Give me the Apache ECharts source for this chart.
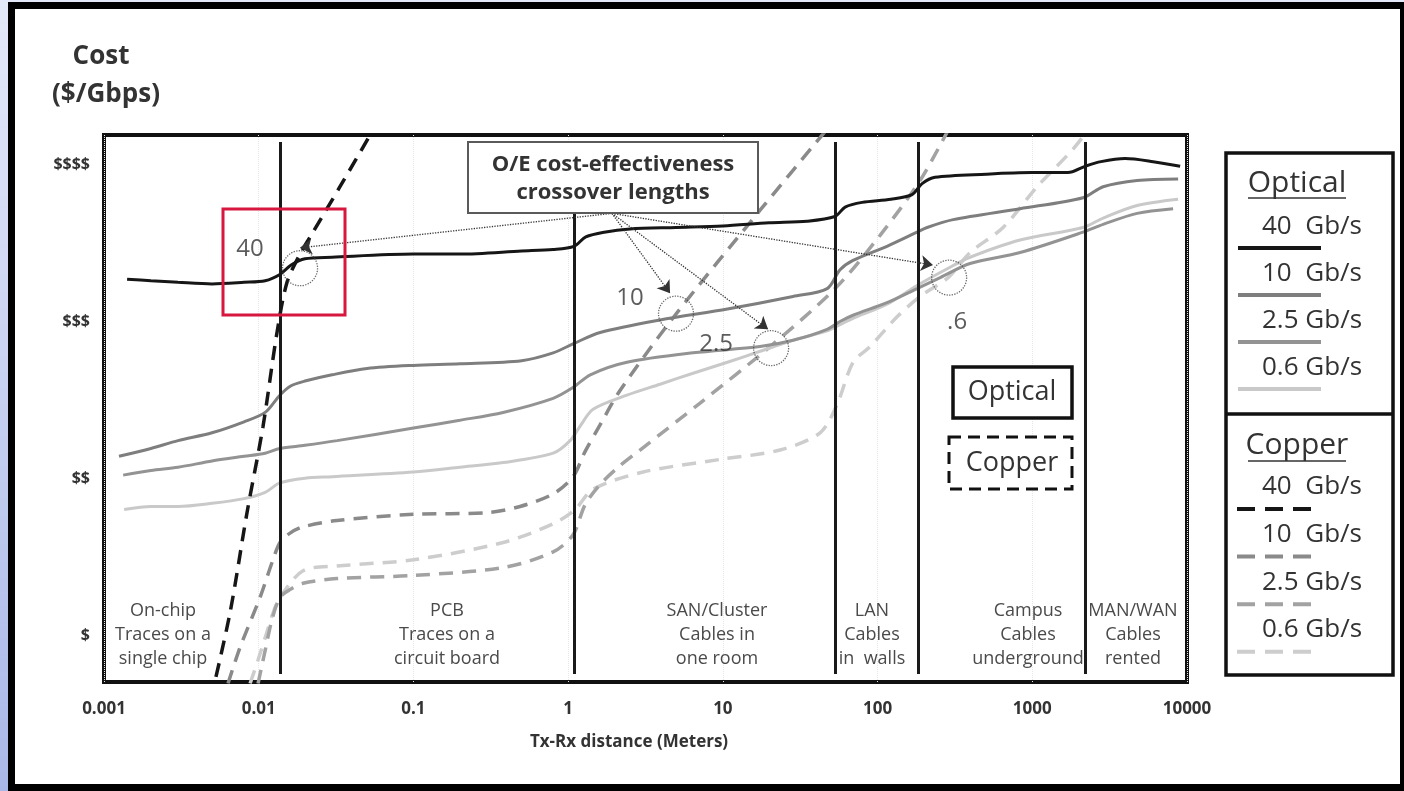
<!DOCTYPE html>
<html>
<head>
<meta charset="utf-8">
<script src="https://cdn.jsdelivr.net/npm/echarts@6/dist/echarts.min.js"></script>
<style>
html, body { margin: 0; padding: 0; width: 1404px; height: 791px; overflow: hidden;
  background: linear-gradient(to bottom, #e4e9f9, #a9b7e8); }
#frame { position: absolute; left: 8px; top: 2px; width: 1399px; height: 789px; box-sizing: border-box;
  border: 7px solid #000; background: #fff; }
#chart { position: absolute; left: 0; top: 0; width: 1404px; height: 791px; }
</style>
</head>
<body>
<div id="frame"></div>
<div id="chart"></div>
<script>
// Axis tick labels
const distanceTicks = ['0.001', '0.01', '0.1', '1', '10', '100', '1000', '10000'];
const costTicks = ['$', '$$', '$$$', '$$$$'];

// Cost curves: [distance in metres, relative cost level]
const optical40 = [[0.00141,3.27],[0.00201,3.26],[0.00301,3.25],[0.00499,3.24],[0.00804,3.25],[0.011,3.26],[0.0137,3.30],[0.0162,3.36],[0.0199,3.40],[0.0298,3.41],[0.1,3.43],[0.2,3.43],[0.5,3.45],[0.8,3.46],[1.09,3.48],[1.3,3.54],[1.71,3.57],[2.51,3.59],[4.98,3.60],[10,3.61],[19.9,3.63],[35,3.64],[53,3.67],[61.7,3.73],[79.4,3.76],[122,3.78],[167,3.81],[194,3.88],[235,3.92],[503,3.94],[997,3.95],[1700,3.95],[2190,3.99],[2780,4.02],[3980,4.04],[6040,4.02],[9030,3.99]];
const optical10 = [[0.00125,2.14],[0.00201,2.19],[0.00301,2.24],[0.00499,2.29],[0.00804,2.36],[0.011,2.42],[0.0137,2.53],[0.0162,2.59],[0.0199,2.62],[0.0298,2.66],[0.0501,2.70],[0.1,2.72],[0.2,2.73],[0.5,2.75],[0.8,2.80],[1.09,2.86],[1.61,2.93],[3.93,3.01],[10.7,3.08],[28.4,3.16],[47.2,3.21],[57.2,3.33],[69.4,3.39],[115,3.48],[180,3.57],[209,3.60],[308,3.65],[834,3.72],[2130,3.79],[2870,3.86],[4760,3.90],[8760,3.91]];
const optical2p5 = [[0.00133,2.02],[0.00201,2.05],[0.00301,2.07],[0.00499,2.11],[0.00804,2.14],[0.011,2.16],[0.0137,2.19],[0.0199,2.21],[0.0321,2.24],[0.1,2.32],[0.2,2.37],[0.38,2.42],[0.8,2.51],[1.08,2.58],[1.39,2.66],[2.4,2.74],[6.42,2.80],[17.4,2.84],[28.4,2.88],[47.2,2.95],[57.2,3.00],[69.4,3.04],[115,3.12],[180,3.21],[254,3.28],[396,3.37],[834,3.44],[2130,3.57],[2870,3.62],[4760,3.69],[8130,3.72]];
const optical0p6 = [[0.00135,1.80],[0.00201,1.82],[0.00301,1.82],[0.00499,1.84],[0.00804,1.87],[0.011,1.91],[0.0137,1.97],[0.0199,2.00],[0.0298,2.01],[0.1,2.04],[0.2,2.07],[0.38,2.10],[0.8,2.16],[1.03,2.24],[1.19,2.33],[1.45,2.44],[2.4,2.53],[3.93,2.60],[6.42,2.67],[10.7,2.74],[17.4,2.81],[28.4,2.88],[47.2,2.94],[57.2,2.98],[69.4,3.02],[115,3.11],[180,3.23],[286,3.34],[396,3.41],[834,3.52],[2130,3.60],[2870,3.66],[4760,3.74],[8760,3.78]];
const copper40 = [[0.0049,0.59],[0.00652,1.14],[0.0084,1.78],[0.01066,2.33],[0.01313,2.93],[0.01524,3.25],[0.0185,3.43],[0.02244,3.57],[0.0335,3.86],[0.0524,4.19],[0.0608,4.31]];
const copper10 = [[0.00633,0.69],[0.00757,0.92],[0.0102,1.24],[0.01237,1.48],[0.01373,1.59],[0.01594,1.65],[0.01934,1.69],[0.03207,1.73],[0.1,1.77],[0.299,1.78],[0.489,1.82],[0.8,1.90],[1.076,2.01],[1.286,2.17],[1.608,2.34],[2.165,2.56],[4.909,3.04],[17.4,3.71],[49.3,4.25]];
const copper2p5 = [[0.0099,0.69],[0.011,0.90],[0.0122,1.10],[0.01373,1.24],[0.01594,1.29],[0.01934,1.33],[0.03207,1.36],[0.1,1.38],[0.38,1.43],[0.8,1.53],[1.076,1.64],[1.286,1.83],[1.608,1.96],[2.165,2.08],[2.916,2.18],[7.124,2.48],[20.2,2.84],[53.1,3.21],[103.8,3.55],[188.2,3.90],[285.7,4.22]];
const copper0p6 = [[0.00879,0.69],[0.0099,0.84],[0.01115,1.00],[0.01237,1.14],[0.01373,1.24],[0.01934,1.41],[0.03207,1.44],[0.1,1.48],[0.38,1.59],[0.8,1.71],[1.108,1.80],[1.449,1.93],[3.05,2.04],[9.59,2.12],[23.4,2.18],[42.5,2.29],[54.7,2.47],[69.4,2.74],[89.4,2.84],[133.7,3.03],[188.2,3.16],[285.7,3.28],[396.2,3.44],[647.6,3.60],[1074,3.86],[1835,4.10],[2364,4.24]];

// Region boundaries (metres) and their names
const regionBounds = [0.0137, 1.1, 53, 183, 2200];
const regionNames = [
  ['On-chip', 'Traces on a', 'single chip'],
  ['PCB', 'Traces on a', 'circuit board'],
  ['SAN/Cluster', 'Cables in', 'one room'],
  ['LAN', 'Cables', 'in  walls'],
  ['Campus', 'Cables', 'underground'],
  ['MAN/WAN', 'Cables', 'rented']
];

// O/E crossover points, their rate labels and the callout arrows
const crossovers = [[0.0185,3.34],[4.98,3.05],[20.5,2.83],[290,3.28]];
const crossoverLabels = ['40', '10', '2.5', '.6'];
const calloutOrigin = [1.92, 3.69];
const arrowTips = [[0.0185,3.47],[4.56,3.18],[19.6,2.95],[228,3.36]];

const legendRates = ['40  Gb/s', '10  Gb/s', '2.5 Gb/s', '0.6 Gb/s'];

const FONT = "'Open Sans', 'Noto Sans', sans-serif";
const shades = ['#161616', '#7e7e7e', '#939393', '#c9c9c9'];
const copperShades = ['#161616', '#8a8a8a', '#a2a2a2', '#cdcdcd'];

const chart = echarts.init(document.getElementById('chart'), null, { renderer: 'canvas' });

function curve(name, data, color, dashed, width) {
  return {
    name, type: 'line', data, smooth: 0.3, symbol: 'none', clip: true,
    lineStyle: { color, width, type: dashed ? [14, 9] : 'solid', cap: 'butt' },
    z: dashed ? 3 : 4
  };
}

const labelOffsets = [[-50, -19], [-46, -16], [-55, -4], [8, 45]];

function text(t, x, y, font, extra) {
  return Object.assign({ type: 'text', z: 21, style: { text: t, x, y, font, fill: '#333', textAlign: 'center', textVerticalAlign: 'middle' } }, extra || {});
}

const graphics = [];
// Axis titles
graphics.push(text('Cost', 101, 57, 'bold 26px ' + FONT));
graphics.push(text('($/Gbps)', 106, 95, 'bold 26px ' + FONT));
graphics.push(text('Tx-Rx distance (Meters)', 629, 742, 'bold 17px ' + FONT));

// Region names along the bottom of the plot
const regionCenters = [163, 447, 717, 872, 1028, 1133];
regionNames.forEach((lines, i) => {
  lines.forEach((t, j) => {
    const el = text(t, regionCenters[i], 611 + j * 24, '18px ' + FONT);
    el.z = 10; el.style.fill = '#4a4a4a';
    graphics.push(el);
  });
});

// Callout box
graphics.push({ type: 'rect', z: 20, shape: { x: 468, y: 142, width: 290, height: 71 }, style: { fill: '#fff', stroke: '#5a5a5a', lineWidth: 2 } });
graphics.push(text('O/E cost-effectiveness', 613, 165, 'bold 22px ' + FONT));
graphics.push(text('crossover lengths', 613, 193, 'bold 22px ' + FONT));

// Highlight frame around the 40 Gb/s crossover
graphics.push({ type: 'rect', z: 20, shape: { x: 223, y: 209, width: 122, height: 106 }, style: { fill: 'none', stroke: '#d8173f', lineWidth: 3 } });

// Line-style key inside the plot
graphics.push({ type: 'rect', z: 20, shape: { x: 953, y: 367, width: 119, height: 51 }, style: { fill: '#fff', stroke: '#111', lineWidth: 3.5 } });
graphics.push(text('Optical', 1012, 392, '27px ' + FONT));
graphics.push({ type: 'rect', z: 20, shape: { x: 949, y: 437, width: 123, height: 52 }, style: { fill: '#fff', stroke: '#111', lineWidth: 3, lineDash: [12, 7] } });
graphics.push(text('Copper', 1012, 463, '27px ' + FONT));

// Legend panel
graphics.push({ type: 'rect', z: 20, shape: { x: 1226, y: 153, width: 167, height: 522 }, style: { fill: '#fff', stroke: '#111', lineWidth: 3.5 } });
graphics.push({ type: 'line', z: 21, shape: { x1: 1226, y1: 414, x2: 1393, y2: 414 }, style: { stroke: '#111', lineWidth: 3.5 } });
[['Optical', 183, 198], ['Copper', 445, 461]].forEach(([t, y, uy]) => {
  graphics.push(text(t, 1297, y, '30px ' + FONT));
  graphics.push({ type: 'line', z: 21, shape: { x1: 1248, y1: uy, x2: 1346, y2: uy }, style: { stroke: '#333', lineWidth: 1.5 } });
});
legendRates.forEach((t, i) => {
  const yo = 227 + i * 47, yc = 487 + i * 47.6;
  const a = text(t, 1262, yo, '26px ' + FONT); a.style.textAlign = 'left';
  graphics.push(a);
  graphics.push({ type: 'line', z: 21, shape: { x1: 1238, y1: yo + 21, x2: 1321, y2: yo + 21 }, style: { stroke: shades[i], lineWidth: 4 } });
  const b = text(t, 1262, yc, '26px ' + FONT); b.style.textAlign = 'left';
  graphics.push(b);
  graphics.push({ type: 'line', z: 21, shape: { x1: 1237, y1: yc + 22, x2: 1311, y2: yc + 22 }, style: { stroke: copperShades[i], lineWidth: 4, lineDash: [18, 10] } });
});

const option = {
  backgroundColor: 'transparent',
  animation: false,
  grid: { left: 104, right: 217, top: 135, bottom: 109, show: true, borderColor: '#111', borderWidth: 4, backgroundColor: 'transparent' },
  xAxis: {
    type: 'log', logBase: 10, min: 0.001, max: 10000, interval: 1,
    axisLine: { show: false }, axisTick: { show: false },
    splitLine: { show: true, lineStyle: { color: '#e6e6e6', type: 'dotted', width: 1 } },
    axisLabel: { formatter: v => distanceTicks[Math.round(Math.log10(v)) + 3], fontFamily: FONT, fontWeight: 'bold', fontSize: 17, color: '#333', margin: 19 }
  },
  yAxis: {
    type: 'value', min: 0.7, max: 4.19,
    axisLine: { show: false }, axisTick: { show: false }, splitLine: { show: false },
    axisLabel: { customValues: [1, 2, 3, 4], formatter: v => costTicks[Math.round(v) - 1] || '', fontFamily: FONT, fontWeight: 'bold', fontSize: 16, color: '#333', margin: 14 }
  },
  series: [
    curve('Copper 0.6 Gb/s', copper0p6, copperShades[3], true, 3.5),
    curve('Copper 2.5 Gb/s', copper2p5, copperShades[2], true, 3.5),
    curve('Copper 10 Gb/s', copper10, copperShades[1], true, 3.5),
    curve('Optical 0.6 Gb/s', optical0p6, shades[3], false, 3),
    curve('Optical 2.5 Gb/s', optical2p5, shades[2], false, 3),
    curve('Optical 10 Gb/s', optical10, shades[1], false, 3),
    Object.assign(curve('Copper 40 Gb/s', copper40, copperShades[0], true, 3.5), { z: 5 }),
    Object.assign(curve('Optical 40 Gb/s', optical40, shades[0], false, 3), {
      z: 6,
      markLine: {
        silent: true, symbol: 'none', label: { show: false },
        lineStyle: { color: '#1a1a1a', width: 3, type: 'solid' },
        data: regionBounds.map(b => [{ coord: [b, 4.146] }, { coord: [b, 0.751] }])
      }
    }),
    {
      name: 'crossover', type: 'scatter', z: 8, symbol: 'circle', symbolSize: 35,
      data: crossovers.map((c, i) => ({ value: c, label: { offset: labelOffsets[i] } })),
      itemStyle: { color: 'rgba(0,0,0,0)', borderColor: '#444', borderWidth: 1.3, borderType: 'dotted' },
      label: { show: true, position: 'inside', formatter: p => crossoverLabels[p.dataIndex], fontFamily: FONT, fontSize: 24, color: '#333' }
    },
    {
      name: 'callout', type: 'lines', coordinateSystem: 'cartesian2d', z: 9,
      symbol: ['none', 'arrow'], symbolSize: 12,
      lineStyle: { color: '#333', width: 1.3, type: 'dotted', opacity: 1 },
      data: arrowTips.map(t => ({ coords: [calloutOrigin, t] }))
    }
  ],
  graphic: { elements: graphics }
};
chart.setOption(option);
</script>
</body>
</html>
